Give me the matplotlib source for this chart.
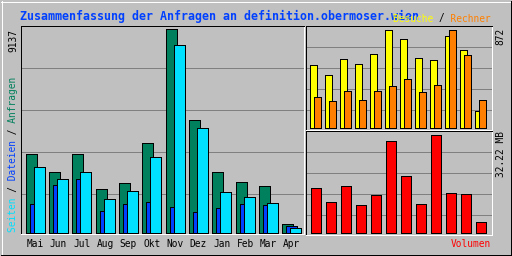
import matplotlib
matplotlib.use("Agg")
import matplotlib.pyplot as plt
import matplotlib.transforms as mtrans
from matplotlib.lines import Line2D
import numpy as np

# ---------------- data ----------------
months = ["Mai", "Jun", "Jul", "Aug", "Sep", "Okt", "Nov", "Dez", "Jan", "Feb", "Mar", "Apr"]
anfragen = [3520, 2710, 3520, 1940, 2210, 4010, 9137, 5050, 2710, 2260, 2080, 370]
seiten = [2930, 2390, 2710, 1490, 1850, 3380, 8420, 4690, 1810, 1580, 1310, 190]
dateien = [1270, 2120, 2390, 950, 1270, 1360, 1130, 910, 1090, 1270, 1220, 280]
besuche = [553, 464, 607, 562, 651, 872, 785, 616, 598, 814, 687, 144]
rechner = [269, 233, 322, 242, 322, 367, 429, 313, 375, 872, 642, 242]
volumen_mb = [14.47, 10.19, 15.45, 8.88, 12.49, 29.92, 18.74, 9.21, 32.22, 13.15, 12.82, 3.29]

title = "Zusammenfassung der Anfragen an definition.obermoser.wien"
legend_left = ["Seiten", " / ", "Dateien", " / ", "Anfragen"]
legend_left_colors = ["#00E0FF", "black", "#0040FF", "black", "#00805C"]
legend_top = ["Besuche", " / ", "Rechner"]
legend_top_colors = ["#FFFF00", "black", "#FF8000"]
label_vol = "Volumen"

# ---------------- style ----------------
BG = "#C0C0C0"
GRID = "#808080"
C_HITS = "#00805C"
C_FILES = "#0040FF"
C_PAGES = "#00E0FF"
C_VISITS = "#FFFF00"
C_SITES = "#FF8000"
C_VOL = "#FF0000"
C_TITLE = "#0040FF"
LW = 0.72  # 1 px
MONO = "DejaVu Sans Mono"
SMALL = 6.85
BIG = 8.4

W, H = 512, 256
fig = plt.figure(figsize=(W / 100, H / 100), dpi=100)
fig.patch.set_facecolor(BG)


def px_axes(l, t, r, b):
    return fig.add_axes([l / W, (H - b) / H, (r - l) / W, (b - t) / H])


def style(ax, t, b, step):
    ax.set_facecolor(BG)
    ax.set_xticks([])
    ax.set_yticks([])
    for s, c in (("left", "black"), ("top", "black"), ("right", "white"), ("bottom", "white")):
        ax.spines[s].set_color(c)
        ax.spines[s].set_linewidth(LW)
        ax.spines[s].set_zorder(6)
        ax.spines[s].set_antialiased(False)
    h = b - t
    for k in range(1, 5):
        f = 1 - k * step / h
        ax.plot([0, 1], [f, f], transform=ax.transAxes, color=GRID, lw=LW,
                zorder=1, antialiased=False, solid_capstyle="butt")


def bars(ax, x, v, w, color, z):
    ax.bar(x, v, width=w, align="edge", color=color, edgecolor="black",
           linewidth=LW, zorder=z, antialiased=False)


x = np.arange(len(months))

# ---- main panel ----
ax1 = px_axes(20.5, 25.5, 303.5, 233.5)
style(ax1, 25.5, 233.5, 42)
pitch = 70 / 3
ax1.set_xlim((20.5 - 25.5) / pitch, (303.5 - 25.5) / pitch)
m1 = max(anfragen)
pp = m1 / 203
ax1.set_ylim(-1 * pp, m1 + 4 * pp)
bars(ax1, x, anfragen, 11 / pitch, C_HITS, 3)
bars(ax1, x + 4 / pitch, dateien, 11 / pitch, C_FILES, 4)
bars(ax1, x + 8 / pitch, seiten, 11 / pitch, C_PAGES, 5)

trans_m = mtrans.blended_transform_factory(ax1.transData, fig.transFigure)
for i, m in enumerate(months):
    ax1.text(i + 9.5 / pitch, (H - 246.7) / H, m, transform=trans_m, ha="center",
             va="baseline", family=MONO, size=SMALL, color="black", clip_on=False)

# ---- visits / sites panel ----
ax2 = px_axes(305.5, 25.5, 491.5, 129.5)
style(ax2, 25.5, 129.5, 21)
ax2.set_xlim((305.5 - 309.5) / 15, (491.5 - 309.5) / 15)
m2 = max(max(besuche), max(rechner))
pp2 = m2 / 98
ax2.set_ylim(-2 * pp2, m2 + 4 * pp2)
bars(ax2, x, besuche, 7 / 15, C_VISITS, 3)
bars(ax2, x + 4 / 15, rechner, 7 / 15, C_SITES, 4)

# ---- volume panel ----
ax3 = px_axes(305.5, 130.5, 491.5, 234.5)
style(ax3, 130.5, 234.5, 21)
ax3.set_xlim((305.5 - 310.5) / 15, (491.5 - 310.5) / 15)
m3 = max(volumen_mb)
pp3 = m3 / 98
ax3.set_ylim(-2 * pp3, m3 + 4 * pp3)
bars(ax3, x, volumen_mb, 10 / 15, C_VOL, 3)


# ---------------- texts ----------------
def ftext(px, py, s, **kw):
    return fig.text(px / W, (H - py) / H, s, **kw)


def overlay(px, py, pieces, colors, rot, size):
    full = "".join(pieces)
    pos = 0
    for p, c in zip(pieces, colors):
        s = " " * pos + p + " " * (len(full) - pos - len(p))
        pos += len(p)
        ftext(px, py, s, color=c, family=MONO, size=size, rotation=rot,
              rotation_mode="anchor", ha="left", va="baseline", zorder=4)


ftext(19.5, 20.0, title, color=C_TITLE, family=MONO, weight="bold", size=BIG,
      ha="left", va="baseline", zorder=2)
overlay(393.0, 21.5, legend_top, legend_top_colors, 0, SMALL)
overlay(16.3, 232.0, legend_left, legend_left_colors, 90, SMALL)

ftext(16.3, 51.5, f"{m1:.0f}", color="black", family=MONO, size=SMALL, rotation=90,
      rotation_mode="anchor", ha="left", va="baseline")
ftext(503.8, 45.3, f"{m2:.0f}", color="black", family=MONO, size=SMALL, rotation=90,
      rotation_mode="anchor", ha="left", va="baseline")
ftext(503.8, 177.0, f"{m3:.2f} MB", color="black", family=MONO, size=SMALL, rotation=90,
      rotation_mode="anchor", ha="left", va="baseline")
ftext(490.5, 246.7, label_vol, color=C_VOL, family=MONO, size=SMALL,
      ha="right", va="baseline")

# ---------------- outer bevel ----------------
def pline(x0, y0, x1, y1, c):
    fig.add_artist(Line2D([x0 / W, x1 / W], [(H - y0) / H, (H - y1) / H],
                          transform=fig.transFigure, color=c, lw=LW, antialiased=False))


pline(1, 1.5, 510, 1.5, "white")
pline(1.5, 1, 1.5, 255, "white")
pline(510.5, 1, 510.5, 255, "black")
pline(1, 254.5, 511, 254.5, "black")

fig.savefig("out.png", dpi=100, facecolor=BG)
